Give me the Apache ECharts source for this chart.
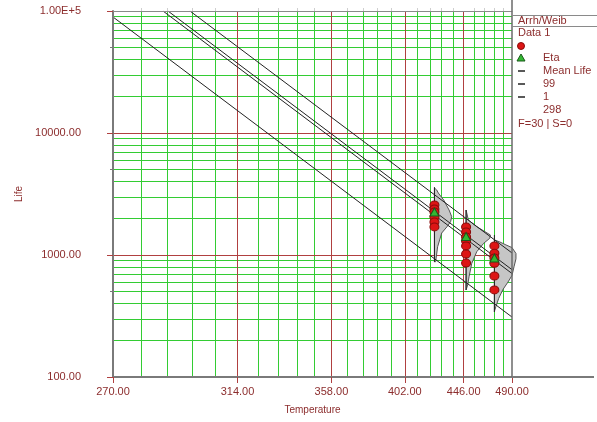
<!DOCTYPE html>
<html><head><meta charset="utf-8">
<script src="https://cdn.jsdelivr.net/npm/echarts@6/dist/echarts.min.js"></script>
<style>html,body{margin:0;padding:0;background:#fff}#c{width:597px;height:422px}</style>
</head><body><div id="c"></div>
<script>
// ---- data ----
const T_TICKS = [270, 314, 358, 402, 446, 490];
const T_MINOR = [278.8, 287.6, 296.4, 305.2, 322.8, 331.6, 340.4, 349.2, 366.8, 375.6, 384.4, 393.2, 410.8, 419.6, 428.4, 437.2, 454.8, 463.6, 472.4, 481.2];
const LIFE_TICKS = [100, 1000, 10000, 100000];
const LIFE_MAJOR = [1000, 10000];
const LIFE_MINOR = [200, 300, 400, 500, 600, 700, 800, 900, 2000, 3000, 4000, 5000, 6000, 7000, 8000, 9000, 20000, 30000, 40000, 50000, 60000, 70000, 80000, 90000];
const LIFE_HALF = [500, 5000, 50000];
const STRESS = [423, 448, 473];
const LIFE_423 = [2570, 2383, 2250, 2049, 1864, 1698];
const LIFE_448 = [1698, 1545, 1406, 1303, 1186, 1019, 859];
const LIFE_473 = [1186, 1033, 945, 855, 673, 517];
const ETA = [2251, 1419, 945];
const LINE_MEAN = [[286.1, 100000], [490, 705]];
const LINE_ETA = [[287.8, 100000], [490, 758]];
const LINE_99 = [[295.6, 100000], [490, 1039]];
const LINE_1 = [[270, 89300], [490, 310]];
const PDF_STEMS = [[423, 3600, 875], [448, 2338, 517], [473, 1459, 341]];
const SHAPE_423 = [[423, 3541], [424.7, 3411], [425.9, 3223], [430, 2824], [434.2, 2338], [436.3, 2060], [435.4, 1875], [432.6, 1706], [428.5, 1515], [425.4, 1169], [423.9, 881], [423, 881]];
const SHAPE_448 = [[448, 2338], [449.9, 1936], [457.1, 1706], [464.4, 1552], [469.3, 1459], [468.7, 1371], [463.2, 1247], [457.1, 1064], [452.8, 855], [450.5, 664], [449.35, 568], [448, 517]];
const SHAPE_473 = [[473, 1330], [478, 1280], [484, 1210], [490, 1150], [494, 1030], [494, 930], [492, 800], [490, 680], [486, 600], [481, 520], [477, 440], [474.5, 380], [473, 345]];
const PDF_SHAPES = [SHAPE_423, SHAPE_448, SHAPE_473];
const LEGEND_TITLE = 'Arrh/Weib';
const LEGEND_ITEMS = ['Data 1', 'Eta', 'Mean Life', '99', '1', '298', 'F=30 | S=0'];

// ---- helpers ----
const toX = T => -1000 / T;
const TXT = '#8c2d2d';
const GREEN = '#33cc33';
const RED = '#b04040';
const FONT = 'Liberation Sans';
const X_MIN = toX(T_TICKS[0]), X_MAX = toX(T_TICKS[T_TICKS.length - 1]);

const chart = echarts.init(document.getElementById('c'), null, {renderer: 'canvas'});

function lineSeries(pts, z) {
  return {type: 'line', data: pts.map(p => [toX(p[0]), p[1]]), symbol: 'none', z: z || 4,
    lineStyle: {color: '#222', width: 1}, silent: true, animation: false};
}

// grid lines drawn as full-length inside ticks of helper axes
function gridX(values, color, z) {
  return {type: 'value', min: X_MIN, max: X_MAX, position: 'bottom', z: z, silent: true,
    axisLine: {show: false}, axisLabel: {show: false}, splitLine: {show: false},
    axisTick: {show: true, inside: true, length: 366, customValues: values.map(toX),
      lineStyle: {color: color, width: 1}}};
}
function gridY(values, color, z) {
  return {type: 'log', logBase: 10, min: 100, max: 100000, position: 'left', z: z, silent: true,
    axisLine: {show: false}, axisLabel: {show: false}, splitLine: {show: false},
    axisTick: {show: true, inside: true, length: 399, customValues: values,
      lineStyle: {color: color, width: 1}}};
}

const series = [
  {type: 'custom', z: 3, clip: false, silent: true, animation: false,
    data: PDF_SHAPES.map(s => [toX(s[0][0]), s[0][1]]),
    encode: {x: 0, y: 1},
    renderItem: function (params, api) {
      const s = PDF_SHAPES[params.dataIndex];
      const points = s.map(p => api.coord([toX(p[0]), p[1]]));
      return {type: 'polygon', shape: {points: points},
        style: {fill: '#c6c6c6', stroke: '#555', lineWidth: 1}};
    }},
];
PDF_STEMS.forEach(s => series.push(lineSeries([[s[0], s[1]], [s[0], s[2]]], 4)));
[LINE_MEAN, LINE_ETA, LINE_99, LINE_1].forEach(l => series.push(lineSeries(l, 4)));
const reds = [];
[LIFE_423, LIFE_448, LIFE_473].forEach((arr, i) => arr.forEach(v => reds.push([toX(STRESS[i]), v])));
series.push({type: 'scatter', data: reds, z: 5, symbol: 'circle', symbolSize: [9, 8], animation: false,
  itemStyle: {color: '#dd1515', borderColor: '#8a0a0a', borderWidth: 1, opacity: 1}});
series.push({type: 'scatter', data: ETA.map((v, i) => [toX(STRESS[i]), v]), z: 6, symbol: 'triangle',
  symbolSize: [9, 8], animation: false,
  itemStyle: {color: '#33b833', borderColor: '#1a5a1a', borderWidth: 1, opacity: 1}});

const labelStyle = {color: TXT, fontFamily: FONT, fontSize: 11};

const option = {
  animation: false,
  backgroundColor: '#fff',
  grid: {left: 113, top: 11, right: 85, bottom: 45, show: false},
  xAxis: [{
    type: 'value', min: X_MIN, max: X_MAX, position: 'bottom', z: 10,
    name: 'Temperature', nameLocation: 'middle', nameGap: 28,
    nameTextStyle: {color: TXT, fontFamily: FONT, fontSize: 10},
    axisLine: {show: true, onZero: false, lineStyle: {color: '#7a7a7a', width: 2}},
    axisTick: {show: true, customValues: T_TICKS.map(toX), length: 6, lineStyle: {color: RED, width: 1}},
    axisLabel: Object.assign({customValues: T_TICKS.map(toX), margin: 9,
      formatter: v => (-1000 / v).toFixed(2)}, labelStyle),
    splitLine: {show: false}
  }, {
    type: 'value', min: X_MIN, max: X_MAX, position: 'top', z: 10,
    axisLine: {show: true, onZero: false, lineStyle: {color: '#8a8a8a', width: 1}},
    axisTick: {show: true, customValues: T_MINOR.map(toX), length: 3, lineStyle: {color: '#cfcfcf'}},
    axisLabel: {show: false}, splitLine: {show: false}
  },
    gridX(T_MINOR, GREEN, 0),
    gridX(T_TICKS.slice(1, -1), RED, 1)
  ],
  yAxis: [{
    type: 'log', logBase: 10, min: 100, max: 100000, z: 10,
    name: 'Life', nameLocation: 'middle', nameGap: 86, nameRotate: 90,
    nameTextStyle: {color: TXT, fontFamily: FONT, fontSize: 10},
    axisLine: {show: true, onZero: false, lineStyle: {color: '#7a7a7a', width: 2}},
    axisTick: {show: true, customValues: LIFE_TICKS, length: 6, lineStyle: {color: RED, width: 1}},
    axisLabel: Object.assign({customValues: LIFE_TICKS, margin: 32,
      formatter: v => (Math.abs(v - 100000) < 1 ? '1.00E+5' : Number(v).toFixed(2))}, labelStyle),
    splitLine: {show: false}, minorTick: {show: false}, minorSplitLine: {show: false}
  }, {
    type: 'log', logBase: 10, min: 100, max: 100000, position: 'left', z: 10,
    axisLine: {show: false},
    axisTick: {show: true, customValues: LIFE_HALF, length: 3, lineStyle: {color: '#7a7a7a'}},
    axisLabel: {show: false}, splitLine: {show: false}
  },
    gridY(LIFE_MINOR, GREEN, 0),
    gridY(LIFE_MAJOR, RED, 1)
  ],
  graphic: [
    {type: 'line', shape: {x1: 512, y1: 0, x2: 512, y2: 377}, style: {stroke: '#6a6a6a', lineWidth: 1.5}, z: 20},
    {type: 'line', shape: {x1: 512, y1: 377, x2: 594, y2: 377}, style: {stroke: '#7a7a7a', lineWidth: 2}, z: 20},
    {type: 'line', shape: {x1: 512, y1: 15.5, x2: 597, y2: 15.5}, style: {stroke: '#8a8a8a', lineWidth: 1}, z: 20},
    {type: 'line', shape: {x1: 512, y1: 26.5, x2: 597, y2: 26.5}, style: {stroke: '#8a8a8a', lineWidth: 1}, z: 20},
    {type: 'text', left: 518, top: 15, style: {text: LEGEND_TITLE, fill: TXT, font: '11px "Liberation Sans"'}, z: 20},
    {type: 'text', left: 518, top: 27, style: {text: LEGEND_ITEMS[0], fill: TXT, font: '11px "Liberation Sans"'}, z: 20},
    {type: 'circle', shape: {cx: 521, cy: 46, r: 3.5}, style: {fill: '#dd1515', stroke: '#8a0a0a'}, z: 20},
    {type: 'polygon', shape: {points: [[521, 54], [525, 61], [517, 61]]}, style: {fill: '#33b833', stroke: '#1a5a1a'}, z: 20},
    {type: 'text', left: 543, top: 52, style: {text: LEGEND_ITEMS[1], fill: TXT, font: '11px "Liberation Sans"'}, z: 20},
    {type: 'line', shape: {x1: 518, y1: 71, x2: 525, y2: 71}, style: {stroke: '#222', lineWidth: 1.5}, z: 20},
    {type: 'text', left: 543, top: 65, style: {text: LEGEND_ITEMS[2], fill: TXT, font: '11px "Liberation Sans"'}, z: 20},
    {type: 'line', shape: {x1: 518, y1: 84, x2: 525, y2: 84}, style: {stroke: '#222', lineWidth: 1.5}, z: 20},
    {type: 'text', left: 543, top: 78, style: {text: LEGEND_ITEMS[3], fill: TXT, font: '11px "Liberation Sans"'}, z: 20},
    {type: 'line', shape: {x1: 518, y1: 97, x2: 525, y2: 97}, style: {stroke: '#222', lineWidth: 1.5}, z: 20},
    {type: 'text', left: 543, top: 91, style: {text: LEGEND_ITEMS[4], fill: TXT, font: '11px "Liberation Sans"'}, z: 20},
    {type: 'text', left: 543, top: 104, style: {text: LEGEND_ITEMS[5], fill: TXT, font: '11px "Liberation Sans"'}, z: 20},
    {type: 'text', left: 518, top: 118, style: {text: LEGEND_ITEMS[6], fill: TXT, font: '11px "Liberation Sans"'}, z: 20}
  ],
  series: series
};
chart.setOption(option);
</script>
</body></html>
